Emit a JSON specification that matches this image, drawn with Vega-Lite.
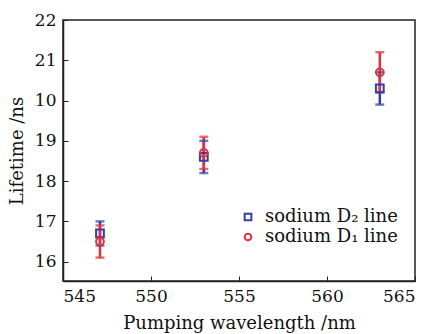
{
  "$schema": "https://vega.github.io/schema/vega-lite/v6.json",
  "width": 352,
  "height": 261,
  "autosize": "none",
  "padding": {"left": 63, "top": 20, "right": 28, "bottom": 53},
  "background": "white",
  "config": {
    "font": "DejaVu Serif",
    "view": {"stroke": "#222", "strokeWidth": 1.5},
    "axis": {
      "grid": false,
      "domainColor": "#222",
      "domainWidth": 1.5,
      "tickColor": "#222",
      "tickWidth": 1,
      "tickSize": -5,
      "labelFont": "DejaVu Serif",
      "labelFontSize": 17,
      "labelColor": "#111",
      "titleFont": "DejaVu Serif",
      "titleFontSize": 18,
      "titleFontWeight": "normal",
      "titleColor": "#111"
    },
    "legend": {"labelFont": "DejaVu Serif", "labelFontSize": 18, "labelColor": "#111"}
  },
  "data": {
    "values": [
      {"wl": 547.1, "lifetime": 16.7, "lo": 16.4, "hi": 17.0, "series": "sodium D₂ line"},
      {"wl": 553.0, "lifetime": 18.6, "lo": 18.2, "hi": 19.0, "series": "sodium D₂ line"},
      {"wl": 563.0, "lifetime": 20.3, "lo": 19.9, "hi": 20.7, "series": "sodium D₂ line"},
      {"wl": 547.1, "lifetime": 16.5, "lo": 16.1, "hi": 16.9, "series": "sodium D₁ line"},
      {"wl": 553.0, "lifetime": 18.7, "lo": 18.3, "hi": 19.1, "series": "sodium D₁ line"},
      {"wl": 563.0, "lifetime": 20.7, "lo": 20.2, "hi": 21.2, "series": "sodium D₁ line"}
    ]
  },
  "encoding": {
    "x": {
      "field": "wl", "type": "quantitative",
      "scale": {"domain": [545, 565], "nice": false, "zero": false},
      "axis": {"values": [545, 550, 555, 560, 565], "title": "Pumping wavelength /nm", "labelPadding": 12, "titlePadding": 10}
    }
  },
  "layer": [
    {
      "mark": {"type": "rule", "strokeWidth": 2.5},
      "encoding": {
        "y": {
          "field": "lo", "type": "quantitative",
          "scale": {"domain": [15.52, 22], "nice": false, "zero": false},
          "axis": {"values": [16, 17, 18, 19, 20, 21, 22], "labelExpr": "datum.value == 20 ? '10' : datum.label", "title": "Lifetime /ns", "labelPadding": 12, "titlePadding": 8}
        },
        "y2": {"field": "hi"},
        "color": {"condition": {"test": "datum.series == 'sodium D₂ line'", "value": "#2f3ea8"}, "value": "#e2303c"}
      }
    },
    {
      "mark": {"type": "tick", "orient": "horizontal", "thickness": 2.5, "size": 9},
      "encoding": {
        "y": {"field": "lo", "type": "quantitative"},
        "color": {"condition": {"test": "datum.series == 'sodium D₂ line'", "value": "#2f3ea8"}, "value": "#e2303c"}
      }
    },
    {
      "mark": {"type": "tick", "orient": "horizontal", "thickness": 2.5, "size": 9},
      "encoding": {
        "y": {"field": "hi", "type": "quantitative"},
        "color": {"condition": {"test": "datum.series == 'sodium D₂ line'", "value": "#2f3ea8"}, "value": "#e2303c"}
      }
    },
    {
      "mark": {"type": "point", "filled": false, "strokeWidth": 2, "size": 60, "opacity": 1},
      "encoding": {
        "y": {"field": "lifetime", "type": "quantitative"},
        "color": {
          "field": "series", "type": "nominal",
          "scale": {"domain": ["sodium D₂ line", "sodium D₁ line"], "range": ["#2f3ea8", "#e2303c"]},
          "legend": {"title": null, "orient": "none", "legendX": 176, "legendY": 188, "symbolSize": 45, "symbolStrokeWidth": 2, "symbolOpacity": 1, "rowPadding": 2, "labelOffset": 8}
        },
        "shape": {
          "field": "series", "type": "nominal",
          "scale": {"domain": ["sodium D₂ line", "sodium D₁ line"], "range": ["square", "circle"]},
          "legend": {"title": null, "orient": "none", "legendX": 176, "legendY": 188, "symbolSize": 45, "symbolStrokeWidth": 2, "symbolOpacity": 1, "rowPadding": 2, "labelOffset": 8}
        }
      }
    }
  ]
}
